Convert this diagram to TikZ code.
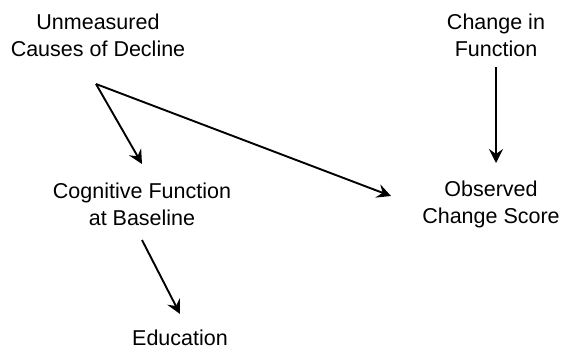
\documentclass[tikz,border=0pt]{standalone}
\usepackage{fontspec}
\setmainfont{Liberation Sans}
\usetikzlibrary{arrows.meta}
\begin{document}
\begin{tikzpicture}[x=1pt,y=-1pt,
  lbl/.style={align=center,inner sep=0pt,font=\fontsize{21.5}{27}\selectfont},
  arr/.style={line width=1.9pt,-{Stealth[length=14pt,width=14pt,inset=5pt]}}]
\useasboundingbox (0,0) rectangle (565,351);
\node[lbl] (u) at (98,35) {Unmeasured\\Causes of Decline};
\node[lbl] (cf) at (142,204) {Cognitive Function\\at Baseline};
\node[lbl] (edu) at (180,338) {Education};
\node[lbl] (ch) at (496,35) {Change in\\Function};
\node[lbl] (obs) at (491,204) {Observed\\Change Score};
\coordinate (uo) at (96,84);
\coordinate (cfin) at (142,164);
\coordinate (obsin) at (391,196);
\coordinate (cfo) at (142,240);
\coordinate (eduin) at (180,314);
\coordinate (cho) at (496,67);
\coordinate (obsin2) at (496,163);
\draw[arr] (uo) -- (cfin);
\draw[arr] (uo) -- (obsin);
\draw[arr] (cfo) -- (eduin);
\draw[arr] (cho) -- (obsin2);
\end{tikzpicture}
\end{document}
